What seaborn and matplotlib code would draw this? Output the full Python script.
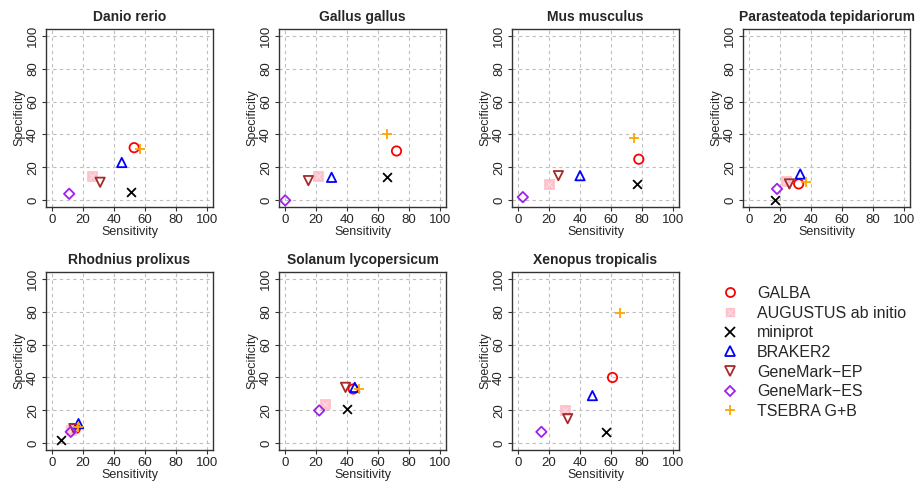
import matplotlib
matplotlib.use("Agg")
import matplotlib.pyplot as plt
from matplotlib.lines import Line2D
from matplotlib.legend_handler import HandlerTuple
import pandas as pd
import seaborn as sns

# methods, in legend order
methods = ["GALBA", "AUGUSTUS ab initio", "miniprot", "BRAKER2",
           "GeneMark\u2212EP", "GeneMark\u2212ES", "TSEBRA G+B"]
colors = ["red", "pink", "black", "blue", "brown", "#A020F0", "orange"]
markers = ["o", "s", "x", "^", "v", "D", "+"]

species = ["Danio rerio", "Gallus gallus", "Mus musculus",
           "Parasteatoda tepidariorum", "Rhodnius prolixus",
           "Solanum lycopersicum", "Xenopus tropicalis"]

# sensitivity / specificity per species, same order as methods
danio_sens = [53, 26, 51, 45, 31, 11, 57]
danio_spec = [32, 15, 5, 23, 11, 4, 31]
gallus_sens = [72, 21, 66, 30, 15, 0, 66]
gallus_spec = [30, 15, 14, 14, 12, 0, 40]
mus_sens = [78, 20, 77, 40, 26, 3, 75]
mus_spec = [25, 10, 10, 15, 15, 2, 38]
parasteatoda_sens = [32, 24, 17, 33, 26, 18, 37]
parasteatoda_spec = [10, 12, 0, 16, 10, 7, 11]
rhodnius_sens = [15, 12, 6, 17, 14, 12, 17]
rhodnius_spec = [9, 8, 2, 12, 9, 7, 10]
solanum_sens = [44, 26, 40, 45, 39, 22, 48]
solanum_spec = [33, 24, 21, 34, 34, 20, 33]
xenopus_sens = [61, 30, 57, 48, 32, 15, 66]
xenopus_spec = [40, 20, 7, 29, 15, 7, 79]

sens = [danio_sens, gallus_sens, mus_sens, parasteatoda_sens,
        rhodnius_sens, solanum_sens, xenopus_sens]
spec = [danio_spec, gallus_spec, mus_spec, parasteatoda_spec,
        rhodnius_spec, solanum_spec, xenopus_spec]

rows = []
for sp, xs, ys in zip(species, sens, spec):
    for m, x, y in zip(methods, xs, ys):
        rows.append({"species": sp, "method": m, "Sensitivity": x, "Specificity": y})
df = pd.DataFrame(rows)

sns.set_style("white")
plt.rcParams["font.family"] = ["Liberation Sans", "DejaVu Sans"]

fig = plt.figure(figsize=(9.21, 4.82), dpi=100)
W, H = 921, 482
lefts = [46, 279, 512, 743]
tops = [29, 272]
pw, ph = 167, 178

for i, sp in enumerate(species):
    r, c = divmod(i, 4)
    ax = fig.add_axes([lefts[c] / W, 1 - (tops[r] + ph) / H, pw / W, ph / H])
    sub = df[df["species"] == sp]
    for m, col, mk in zip(methods, colors, markers):
        d = sub[sub["method"] == m]
        if mk == "s":
            sns.scatterplot(data=d, x="Sensitivity", y="Specificity", ax=ax,
                            marker="s", color=col, edgecolor=col, s=45,
                            linewidth=0.5, legend=False, zorder=3)
            sns.scatterplot(data=d, x="Sensitivity", y="Specificity", ax=ax,
                            marker="x", color="#f9dde2", s=20, linewidth=0.8,
                            legend=False, zorder=3)
        elif mk in ("x", "+"):
            sns.scatterplot(data=d, x="Sensitivity", y="Specificity", ax=ax,
                            marker=mk, color=col, s=55 if mk == "+" else 40,
                            linewidth=1.3, legend=False, zorder=3)
        else:
            sns.scatterplot(data=d, x="Sensitivity", y="Specificity", ax=ax,
                            marker=mk, facecolor="none", edgecolor=col,
                            color=col, s=28 if mk == "D" else 45,
                            linewidth=1.3, legend=False, zorder=3)
    ax.set_xlim(-4, 104)
    ax.set_ylim(-4, 104)
    ticks = [0, 20, 40, 60, 80, 100]
    ax.set_xticks(ticks)
    ax.set_yticks(ticks)
    ax.grid(True, color="#BEBEBE", linestyle=(0, (3, 3)), linewidth=0.8)
    ax.set_axisbelow(True)
    for s in ax.spines.values():
        s.set_color("#333333")
        s.set_linewidth(1.0)
    ax.tick_params(direction="out", length=3, width=0.8, color="#333333",
                   labelsize=9.5, pad=2, bottom=True, left=True)
    for lab in ax.get_yticklabels():
        lab.set_rotation(90)
        lab.set_va("center")
    ax.set_xlabel("Sensitivity", fontsize=9, labelpad=0)
    ax.set_ylabel("Specificity", fontsize=9, labelpad=1)
    ax.set_title(sp, fontsize=10, fontweight="bold", pad=6)

handles = []
for m, col, mk in zip(methods, colors, markers):
    if mk == "s":
        h = (Line2D([], [], marker="s", color=col, markersize=6, linestyle="none"),
             Line2D([], [], marker="x", color="#f9dde2", markersize=4,
                    markeredgewidth=0.8, linestyle="none"))
    elif mk in ("x", "+"):
        h = Line2D([], [], marker=mk, color=col, markersize=7, markeredgewidth=1.3,
                   linestyle="none")
    else:
        h = Line2D([], [], marker=mk, color=col, markerfacecolor="none",
                   markersize=5 if mk == "D" else 6.5, markeredgewidth=1.3,
                   linestyle="none")
    handles.append(h)

fig.legend(handles, methods, loc="upper left", bbox_to_anchor=(722 / W, 1 - 286 / H),
           frameon=False, fontsize=11.5, handlelength=1, handletextpad=1.2,
           labelspacing=0.29, borderpad=0, borderaxespad=0,
           handler_map={tuple: HandlerTuple(ndivide=1, pad=0)})

fig.savefig("out.png", dpi=100)
